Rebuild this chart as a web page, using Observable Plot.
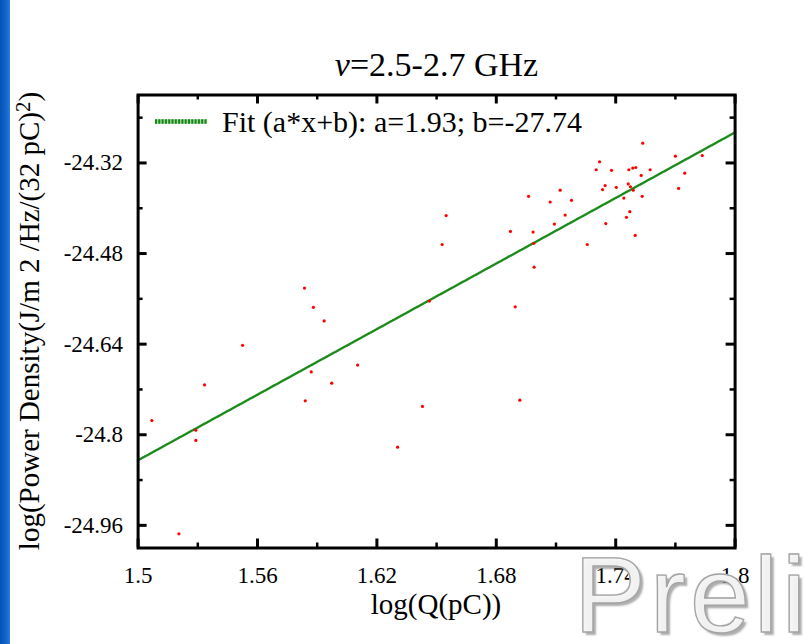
<!DOCTYPE html>
<html><head><meta charset="utf-8">
<script src="https://cdn.jsdelivr.net/npm/d3@7"></script>
<script src="https://cdn.jsdelivr.net/npm/@observablehq/plot@0.6"></script>
<style>
body{margin:0;background:#fff;}
#wrap{position:relative;width:810px;height:644px;overflow:hidden;font-family:"Liberation Serif","Times New Roman",serif;color:#000;}
.abs{position:absolute;white-space:nowrap;line-height:1;}
#chart{position:absolute;left:0;top:0;}
#strip{position:absolute;left:0;top:0;width:10px;height:644px;background:linear-gradient(to right,#0551b4,#1469cf 70%,#2a7de0);}
#title{font-size:34px;left:436.5px;top:48px;transform:translateX(-50%);}
#legtext{font-size:30px;left:222px;top:106.6px;}
#legline{position:absolute;left:155px;top:117px;}
#xlab{font-size:29px;left:436px;top:590px;transform:translateX(-50%);}
#ylab{font-size:29px;line-height:29px;left:30.5px;top:321px;transform:translate(-50%,-50%) rotate(-90deg);}
#wm{font-family:"Liberation Sans",Arial,sans-serif;font-size:108px;left:574px;top:540.6px;letter-spacing:4px;color:rgba(246,246,246,0.95);-webkit-text-stroke:1.3px #a4a4a4;text-shadow:3px 3px 2px rgba(105,105,105,0.55),-1px -1px 0 rgba(225,225,225,0.8);}
</style></head><body>
<div id="wrap">
  <div id="chart"></div>
  <div id="strip"></div>
  <div class="abs" id="title"><i>ν</i>=2.5-2.7 GHz</div>
  <svg id="legline" width="52" height="9"><line x1="0" x2="52" y1="4.5" y2="4.5" stroke="#a8d8a8" stroke-width="4.5"/><line x1="0" x2="52" y1="4.5" y2="4.5" stroke="#138613" stroke-width="4.5" stroke-dasharray="2,1.3"/></svg>
  <div class="abs" id="legtext">Fit (a*x+b): a=1.93; b=-27.74</div>
  <div class="abs" id="xlab">log(Q(pC))</div>
  <div class="abs" id="ylab">log(Power Density(J/m 2 /Hz/(32 pC)<span style="position:relative;top:-0.45em;font-size:0.72em">2</span>)</div>
  <div class="abs" id="wm">Preli</div>
</div>
<script>
// log(Q(pC)) values
const qLog = [1.7536,1.7700,1.7835,1.7319,1.7302,1.7379,1.7466,1.7486,1.7501,1.7573,
  1.7528,1.7747,1.7463,1.7474,1.7488,1.7347,1.7334,1.7403,1.7716,1.7121,
  1.6962,1.7071,1.7178,1.7441,1.7533,1.7146,1.7092,1.7471,1.7454,1.7350,
  1.7498,1.6548,1.6528,1.6871,1.6985,1.6988,1.7257,1.6990,1.5836,1.5881,
  1.5935,1.5525,1.6103,1.5870,1.5334,1.5973,1.5840,1.6429,1.5069,1.5290,
  1.5290,1.6304,1.5205,1.6464,1.6895,1.6918];
// log(Power Density) values
const pdLog = [-24.285,-24.308,-24.307,-24.318,-24.332,-24.333,-24.332,-24.329,-24.328,-24.332,
  -24.342,-24.338,-24.357,-24.362,-24.368,-24.360,-24.367,-24.363,-24.365,-24.368,
  -24.379,-24.389,-24.386,-24.382,-24.379,-24.412,-24.428,-24.406,-24.416,-24.427,
  -24.448,-24.413,-24.464,-24.441,-24.442,-24.462,-24.464,-24.504,-24.541,-24.575,
  -24.599,-24.642,-24.677,-24.689,-24.712,-24.709,-24.740,-24.750,-24.775,-24.792,
  -24.810,-24.822,-24.975,-24.564,-24.574,-24.739];
// fit parameters
const fitA = 1.93;
const fitB = -27.74;
const xDomain = [1.5, 1.8];
const yDomain = [-25.0, -24.2];
const xTicks = [1.5, 1.56, 1.62, 1.68, 1.74, 1.8];
const xTickLabels = ["1.5", "1.56", "1.62", "1.68", "1.74", "1.8"];
const xMinor = [1.53, 1.59, 1.65, 1.71, 1.77];
const yTicks = [-24.96, -24.8, -24.64, -24.48, -24.32];
const yTickLabels = ["-24.96", "-24.8", "-24.64", "-24.48", "-24.32"];
const yMinor = [-24.88, -24.72, -24.56, -24.4, -24.24];

const W = 810, H = 644;
const mL = 137.6, mR = 75.4, mT = 94.5, mB = 96.5;
const innerW = W - mL - mR, innerH = H - mT - mB;
const points = qLog.map((q, i) => ({q, p: pdLog[i]}));
const fitPts = xDomain.map(x => ({x, y: fitA * x + fitB}));

const chart = Plot.plot({
  width: W, height: H,
  marginLeft: mL, marginRight: mR, marginTop: mT, marginBottom: mB,
  style: {fontFamily: '"Liberation Serif", "Times New Roman", serif', fontSize: "23px", color: "#000", background: "transparent"},
  x: {domain: xDomain},
  y: {domain: yDomain},
  marks: [
    Plot.axisX(xTicks, {tickSize: 0, tickPadding: 19, tickFormat: (d, i) => xTickLabels[i], fontSize: 23, fontVariant: "normal"}),
    Plot.axisY(yTicks, {tickSize: 0, tickPadding: 15, tickFormat: (d, i) => yTickLabels[i], fontSize: 23, fontVariant: "normal"}),
    Plot.line(fitPts, {x: "x", y: "y", stroke: "#e2f2e2", strokeWidth: 3}),
    Plot.line(fitPts, {x: "x", y: "y", stroke: "#1b8a1b", strokeWidth: 2.3, strokeDasharray: "1.1,1.4"}),
    Plot.dot(points, {x: "q", y: "p", r: 1.6, fill: "#ff0000", stroke: "none"}),
    Plot.tickX(xTicks, {x: d => d, insetTop: innerH - 9, strokeWidth: 3, stroke: "#000"}),
    Plot.tickX(xTicks, {x: d => d, insetBottom: innerH - 9, strokeWidth: 3, stroke: "#000"}),
    Plot.tickX(xMinor, {x: d => d, insetTop: innerH - 5, strokeWidth: 2.5, stroke: "#000"}),
    Plot.tickX(xMinor, {x: d => d, insetBottom: innerH - 5, strokeWidth: 2.5, stroke: "#000"}),
    Plot.tickY(yTicks, {y: d => d, insetRight: innerW - 9, strokeWidth: 3, stroke: "#000"}),
    Plot.tickY(yTicks, {y: d => d, insetLeft: innerW - 9, strokeWidth: 3, stroke: "#000"}),
    Plot.tickY(yMinor, {y: d => d, insetRight: innerW - 5, strokeWidth: 2.5, stroke: "#000"}),
    Plot.tickY(yMinor, {y: d => d, insetLeft: innerW - 5, strokeWidth: 2.5, stroke: "#000"}),
    Plot.frame({stroke: "#000", strokeWidth: 3})
  ]
});
document.getElementById("chart").appendChild(chart);
</script>
</body></html>
